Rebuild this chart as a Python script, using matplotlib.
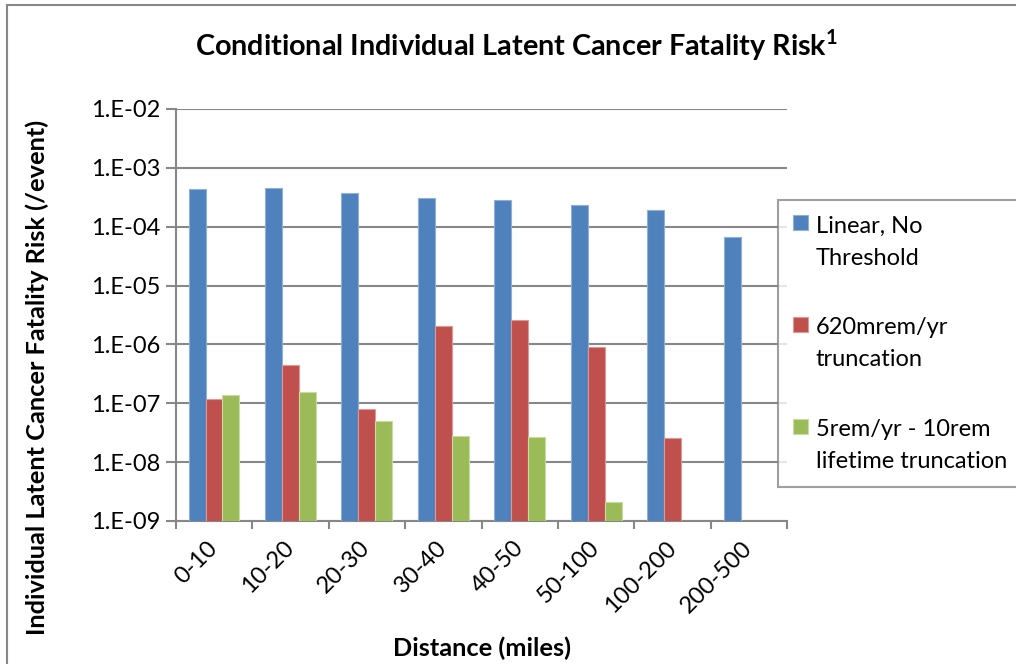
import numpy as np
import matplotlib
matplotlib.use("Agg")
import matplotlib.pyplot as plt
from matplotlib.patches import Rectangle
from matplotlib.ticker import FixedLocator, FuncFormatter, NullLocator

plt.rcParams["font.family"] = ["Lato", "DejaVu Sans"]
plt.rcParams["mathtext.fontset"] = "custom"
plt.rcParams["mathtext.rm"] = "Lato"
plt.rcParams["mathtext.bf"] = "Lato:bold"

# risk per event by distance band
distances = ["0-10", "10-20", "20-30", "30-40", "40-50", "50-100", "100-200", "200-500"]
lnt = [4.4e-4, 4.6e-4, 3.8e-4, 3.1e-4, 2.85e-4, 2.35e-4, 1.9e-4, 6.7e-5]
trunc_620 = [1.18e-7, 4.45e-7, 8.1e-8, 2.03e-6, 2.63e-6, 9.0e-7, 2.6e-8, np.nan]
trunc_5rem = [1.38e-7, 1.58e-7, 4.9e-8, 2.77e-8, 2.63e-8, 2.08e-9, np.nan, np.nan]

series = [
    ("Linear, No\nThreshold", lnt, "#4F81BD", "#8FB0D8"),
    ("620mrem/yr\ntruncation", trunc_620, "#C0504D", "#E09896"),
    ("5rem/yr - 10rem\nlifetime truncation", trunc_5rem, "#9BBB59", "#C8DBA0"),
]

grid_col = "#878787"
fig = plt.figure(figsize=(10.16, 6.64), dpi=100)
ax = fig.add_axes([0.173, 0.2154, 0.602, 0.6206])

x = np.arange(len(distances))
w = 0.222
for i, (name, vals, col, edge) in enumerate(series):
    ax.bar(x + (i - 1) * w, vals, width=w, color=col, edgecolor=edge,
           linewidth=0.8, label=name, zorder=3)

ax.set_yscale("log")
ax.set_ylim(1e-9, 1e-2)
ax.set_xlim(-0.5, len(distances) - 0.5)

decades = [10.0 ** e for e in range(-9, -1)]
ax.yaxis.set_major_locator(FixedLocator(decades))
ax.yaxis.set_minor_locator(NullLocator())
ax.yaxis.set_major_formatter(FuncFormatter(lambda v, p: "1.E-%02d" % round(-np.log10(v))))
ax.grid(axis="y", color=grid_col, linewidth=1.5, zorder=0)

ax.set_xticks(x)
ax.set_xticklabels(distances, rotation=45, ha="right", va="center",
                   rotation_mode="anchor")
ax.set_xticks(np.arange(-0.5, len(distances)), minor=True)
ax.tick_params(axis="x", which="major", length=0, pad=17, labelsize=17)
ax.tick_params(axis="x", which="minor", length=6, width=1.5, color=grid_col)
ax.tick_params(axis="y", length=7, width=1.5, color=grid_col, labelsize=17, pad=4)

for s in ["top", "right"]:
    ax.spines[s].set_visible(False)
for s in ["left", "bottom"]:
    ax.spines[s].set_color(grid_col)
    ax.spines[s].set_linewidth(1.5)

fig.text(0.508, 1 - 45 / 664, r"Conditional Individual Latent Cancer Fatality Risk$^{\mathbf{1}}$",
         ha="center", va="center", fontsize=20.7, fontweight="bold")
fig.text(0.474, 1 - 648 / 664, "Distance (miles)", ha="center", va="center",
         fontsize=18.3, fontweight="bold")
fig.text(37 / 1016, 1 - 377 / 664, "Individual Latent Cancer Fatality Risk (/event)",
         ha="center", va="center", rotation=90, fontsize=18.3, fontweight="bold")

leg = fig.legend(loc="upper left", bbox_to_anchor=(778 / 1016, 1 - 200 / 664),
                 frameon=True, fancybox=False, fontsize=17, handlelength=0.6,
                 handleheight=0.6, handletextpad=0.35, labelspacing=2.05,
                 borderpad=0.65, borderaxespad=0)
leg.get_frame().set_edgecolor(grid_col)
leg.get_frame().set_linewidth(1.5)
for t in leg.get_texts():
    t.set_linespacing(1.66)
for column in leg._legend_handle_box.get_children():
    for item in column.get_children():
        item.align = "top"

# outer chart frame
fig.patches.append(Rectangle((7 / 1016, -0.1), 1.2, 1.1 - 5 / 664,
                             transform=fig.transFigure, fill=False,
                             edgecolor=grid_col, linewidth=1.5))

fig.savefig("out.png", dpi=100)
